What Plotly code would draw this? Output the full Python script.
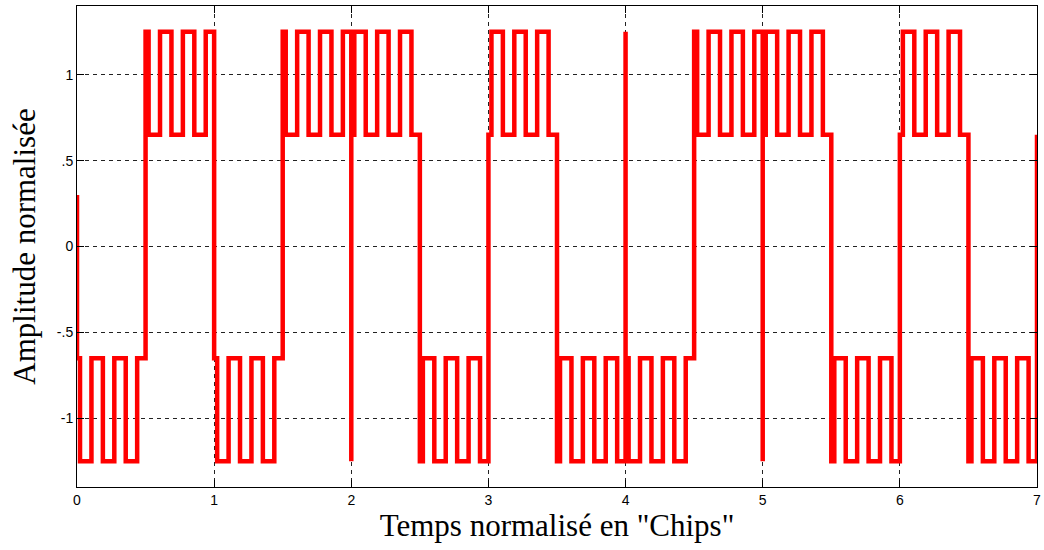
import plotly.graph_objects as go

# Data symbol per half chip (+1 / -1) over 0..7 chips
half_chip_bits = [-1, 1, -1, 1, 1, -1, 1, -1, -1, 1, 1, -1, 1, -1]
# Spreading code sign applied to the subcarrier, one per chip
chip_code = [1, 1, -1, -1, 1, -1, -1]
# Amplitudes of the two components
data_amp = 0.95
sub_amp = 0.30
# Subcarrier: square wave, period in chips and time of its first falling edge
sub_period = 1 / 6
sub_offset = 0.022
# First and last samples of the record
start_level = 0.30
end_level = 0.65
# Isolated samples at chip boundaries
glitch_t = [2.0, 4.0, 5.0]
glitch_y = [-1.25, 1.25, -1.25]

x_ticks = [0, 1, 2, 3, 4, 5, 6, 7]
y_ticks = [-1, -0.5, 0, 0.5, 1]
y_tick_text = ["-1", "-.5", "0", ".5", "1"]

t_end = len(chip_code)

# Edges where either the data or the subcarrier changes
edges = {round(k * 0.5, 6) for k in range(2 * t_end + 1)}
k = 0
while True:
    e = sub_offset + k * sub_period / 2
    if e >= t_end:
        break
    edges.add(round(e, 6))
    k += 1
edges = sorted(edges)


def level(a, b):
    m = 0.5 * (a + b)
    d = half_chip_bits[int(m // 0.5)]
    c = chip_code[int(m // 1)]
    phase = (m - sub_offset) % sub_period
    s = -1 if phase < sub_period / 2 else 1
    return data_amp * d + sub_amp * c * s


xs = [0.0]
ys = [start_level]
glitches = dict(zip(glitch_t, glitch_y))
for a, b in zip(edges[:-1], edges[1:]):
    if a in glitches:
        xs.append(a)
        ys.append(glitches[a])
    L = level(a, b)
    xs += [a, b]
    ys += [L, L]
xs.append(float(t_end))
ys.append(end_level)

fig = go.Figure()
fig.add_trace(go.Scatter(
    x=xs, y=ys, mode="lines",
    line=dict(color="#ff0000", width=4.5),
    hoverinfo="skip", showlegend=False,
))

axis_common = dict(
    showline=True, linecolor="#000000", linewidth=1, mirror="allticks",
    ticks="inside", ticklen=7, tickcolor="#000000",
    showgrid=True, gridcolor="#222222", gridwidth=1, griddash="4px,4px",
    zeroline=False, ticklabeloverflow="allow",
    tickfont=dict(family="Liberation Sans, Arial, sans-serif", size=14, color="#000000"),
)

title_font = dict(family="Liberation Serif, Times New Roman, serif", size=31, color="#000000")

fig.update_xaxes(
    range=[0, 7], tickvals=x_ticks, ticktext=[str(v) for v in x_ticks],
    title=dict(text='Temps normalisé en "Chips"', font=title_font, standoff=6),
    **axis_common,
)
fig.update_yaxes(
    range=[-1.4, 1.4], tickvals=y_ticks, ticktext=y_tick_text,
    title=dict(text="Amplitude normalisée", font=title_font, standoff=12),
    **axis_common,
)

fig.update_layout(
    width=1044, height=550,
    margin=dict(l=77, r=3, t=6, b=63),
    paper_bgcolor="#ffffff", plot_bgcolor="#ffffff",
)

fig.write_html("out.html")
